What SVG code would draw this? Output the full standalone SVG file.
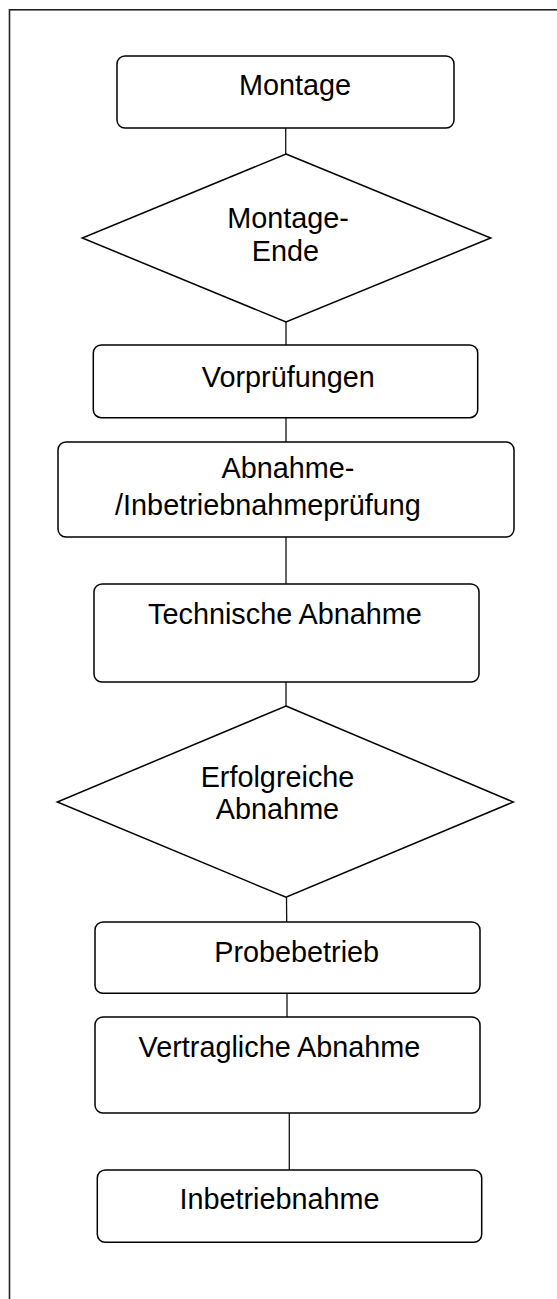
<svg xmlns="http://www.w3.org/2000/svg" width="557" height="1299" viewBox="0 0 557 1299">
  <style>
    .frame { fill: none; stroke: #222; stroke-width: 1.6; }
    .box { fill: #fff; stroke: #000; stroke-width: 1.5; }
    .dec { fill: #fff; stroke: #000; stroke-width: 1.5; stroke-linejoin: miter; }
    .conn line { stroke: #111; stroke-width: 1.3; }
    text { font-family: "Liberation Sans", Arial, Helvetica, sans-serif; font-size: 28.8px; fill: #000; text-anchor: middle; }
  </style>
  <rect width="557" height="1299" fill="#fff"/>
  <!-- page frame, open at the bottom and right -->
  <rect class="frame" x="9.5" y="9.8" width="560" height="1310"/>

  <!-- connectors -->
  <g id="connectors" class="conn">
    <line x1="285.7" y1="128" x2="285.7" y2="154"/>
    <line x1="286" y1="322" x2="286" y2="345"/>
    <line x1="286" y1="418" x2="286" y2="442"/>
    <line x1="286" y1="537" x2="286" y2="584"/>
    <line x1="286" y1="682" x2="286" y2="706"/>
    <line x1="286.5" y1="897" x2="286.7" y2="922"/>
    <line x1="287" y1="993" x2="287" y2="1017"/>
    <line x1="289.3" y1="1113" x2="289.3" y2="1170"/>
  </g>

  <g id="montage">
    <rect class="box" x="117" y="56" width="337" height="72" rx="8"/>
    <text x="295" y="95">Montage</text>
  </g>

  <g id="montage-ende">
    <polygon class="dec" points="286,154 490.7,238 286,322 82.3,238"/>
    <text x="288" y="228">Montage-</text>
    <text x="285.5" y="261">Ende</text>
  </g>

  <g id="vorpruefungen">
    <rect class="box" x="93.3" y="345" width="384.4" height="72.7" rx="8"/>
    <text x="288.3" y="387">Vorprüfungen</text>
  </g>

  <g id="abnahmepruefung">
    <rect class="box" x="58" y="442" width="456" height="95" rx="8"/>
    <text x="288" y="478">Abnahme-</text>
    <text x="268" y="515">/Inbetriebnahmeprüfung</text>
  </g>

  <g id="technische-abnahme">
    <rect class="box" x="94" y="584" width="385" height="98" rx="8"/>
    <text x="285" y="624">Technische Abnahme</text>
  </g>

  <g id="erfolgreiche-abnahme">
    <polygon class="dec" points="286,706 513.3,802 286,897.3 57.3,802"/>
    <text x="277.5" y="787">Erfolgreiche</text>
    <text x="277.5" y="819">Abnahme</text>
  </g>

  <g id="probebetrieb">
    <rect class="box" x="95" y="922" width="385" height="71.3" rx="8"/>
    <text x="296.7" y="962">Probebetrieb</text>
  </g>

  <g id="vertragliche-abnahme">
    <rect class="box" x="95" y="1017" width="385" height="96" rx="8"/>
    <text x="279.5" y="1057">Vertragliche Abnahme</text>
  </g>

  <g id="inbetriebnahme">
    <rect class="box" x="97.3" y="1170" width="384.4" height="72.3" rx="8"/>
    <text x="279.5" y="1209">Inbetriebnahme</text>
  </g>
</svg>
